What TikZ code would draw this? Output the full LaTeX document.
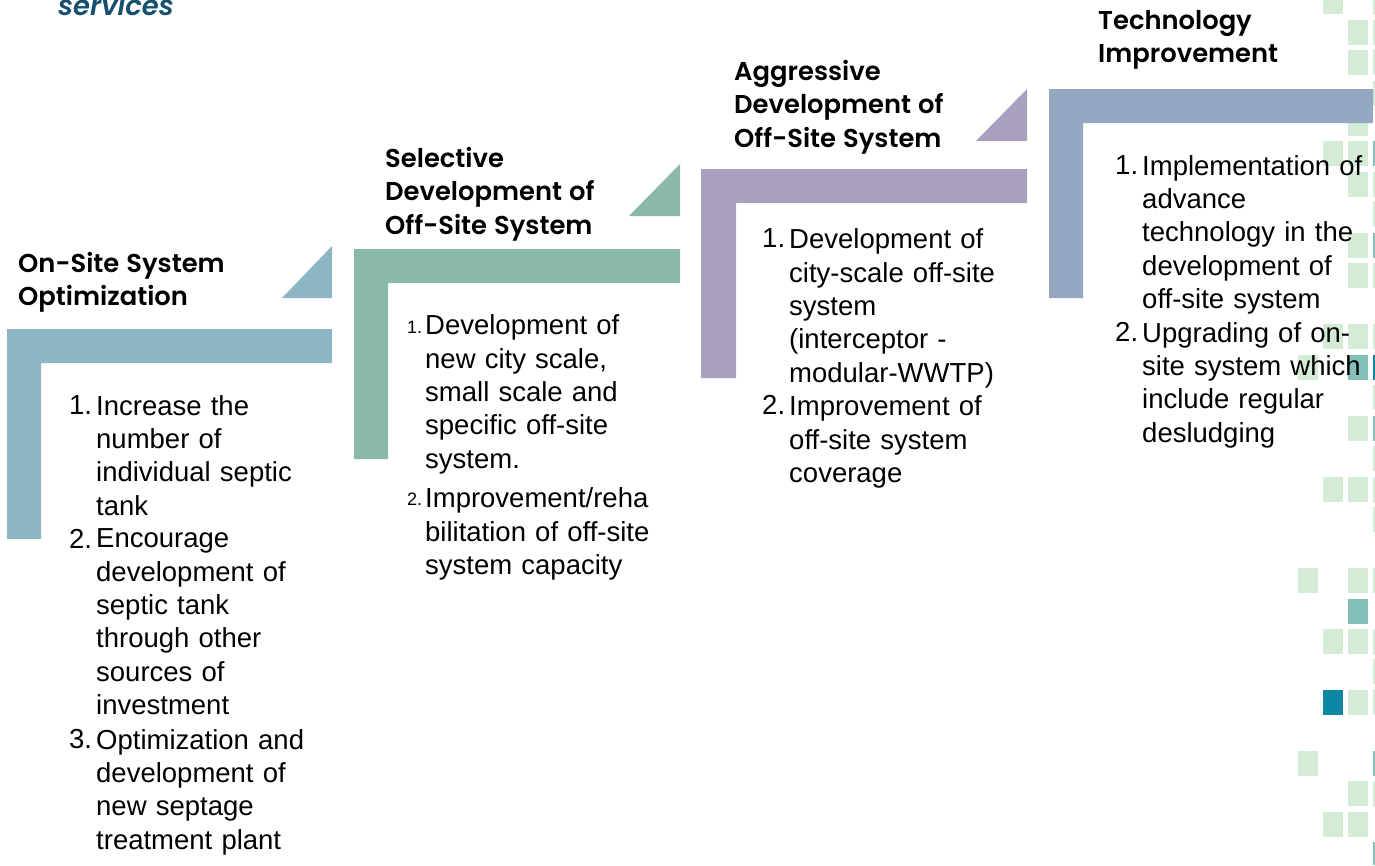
\documentclass[tikz,border=0pt]{standalone}
\usepackage{fontspec}
\setmainfont{Liberation Sans}
\newfontfamily\headfont{Poppins SemiBold}[WordSpace=1.15,ItalicFont={Poppins SemiBold Italic}]
\definecolor{sqlight}{HTML}{D4EBD6}
\definecolor{sqteal}{HTML}{83C1B8}
\definecolor{sqdark}{HTML}{0E87A5}
\definecolor{stepa}{HTML}{8CB6C4}
\definecolor{stepb}{HTML}{8AB8A9}
\definecolor{stepc}{HTML}{A99FBF}
\definecolor{stepd}{HTML}{95A8C1}
\definecolor{headblue}{HTML}{17506F}
\tikzset{
  sqa/.style={fill=sqlight,draw=none},
  sqb/.style={fill=sqteal,draw=none},
  sqc/.style={fill=sqdark,draw=none},
  headtxt/.style={anchor=north west,inner sep=0pt,align=left,font=\fontsize{25.8}{33.4}\selectfont\headfont},
  bodytxt/.style={anchor=north west,inner sep=0pt,text width=#1,align=left,font=\fontsize{27.5}{33.4}\selectfont},
  numtxt/.style={anchor=north west,inner sep=0pt,font=\fontsize{27.5}{33.4}\selectfont},
  smalltxt/.style={anchor=base west,inner sep=0pt,font=\fontsize{18}{20}\selectfont}
}
\begin{document}
\begin{tikzpicture}[x=1pt,y=-1pt]
\useasboundingbox (0,0) rectangle (1375,865);
% col A 1298
\foreach \a/\b in {355/380,568/593,751/776}{\fill[sqa] (1298,\a) rectangle (1318,\b);}
% col B 1323
\foreach \a/\b in {0/14,141/166,324/349,477/502,629/654,812/837}{\fill[sqa] (1323,\a) rectangle (1343,\b);}
\fill[sqc] (1323,690) rectangle (1343,715);
% col C 1348
\foreach \a/\b in {20/45,50/75,123/136,141/166,172/197,233/258,263/288,324/349,416/441,477/502,568/593,629/654,690/715,781/806,812/837}{\fill[sqa] (1348,\a) rectangle (1368,\b);}
\foreach \a/\b in {355/380,599/624}{\fill[sqb] (1348,\a) rectangle (1368,\b);}
% col D 1373
\foreach \a/\b in {0/14,20/45,50/75,81/106,172/197,202/227,263/288,324/349,385/410,446/471,477/502,507/532,568/593,629/654,659/684,690/715,781/806}{\fill[sqa] (1373,\a) rectangle (1375,\b);}
\foreach \a/\b in {141/166,233/258,416/441,751/776,842/865}{\fill[sqb] (1373,\a) rectangle (1375,\b);}
\fill[sqc] (1373,355) rectangle (1375,380);
% steps
\fill[stepa] (7,329) -- (332,329) -- (332,363) -- (41,363) -- (41,539) -- (7,539) -- cycle;
\fill[stepa] (282,298) -- (332,246) -- (332,298) -- cycle;
\fill[stepb] (354,249) -- (680,249) -- (680,283) -- (388,283) -- (388,459) -- (354,459) -- cycle;
\fill[stepb] (629,216) -- (680,164) -- (680,216) -- cycle;
\fill[stepc] (701,169) -- (1027,169) -- (1027,203) -- (736,203) -- (736,378) -- (701,378) -- cycle;
\fill[stepc] (976,141) -- (1027,89) -- (1027,141) -- cycle;
\fill[stepd] (1049,89) -- (1373,89) -- (1373,123) -- (1083,123) -- (1083,298) -- (1049,298) -- cycle;
% heads
\node[anchor=base west,inner sep=0pt,text=headblue,font=\fontsize{27.5}{30}\selectfont\headfont\itshape] (title) at (58,15.5) {services};
\node[headtxt] (h1) at (18,252) {On-Site System\\Optimization};
\node[headtxt] (h2) at (385,147) {Selective\\Development of\\Off-Site System};
\node[headtxt] (h3) at (734,60) {Aggressive\\Development of\\Off-Site System};
\node[headtxt] (h4) at (1098,10) {Technology\\Improvement};
% body 1
\node[numtxt] (n11) at (69,395) {1.};
\node[bodytxt=215pt] (b11) at (96,395) {Increase the\\number of\\individual septic\\tank};
\node[numtxt] (n12) at (69,528.6) {2.};
\node[bodytxt=215pt] (b12) at (96,528.6) {Encourage\\development of\\septic tank\\through other\\sources of\\investment};
\node[numtxt] (n13) at (69,729) {3.};
\node[bodytxt=215pt] (b13) at (96,729) {Optimization and\\development of\\new septage\\treatment plant};
% body 2
\node[smalltxt] (n21) at (407,333) {1.};
\node[bodytxt=240pt] (b21) at (425,314.5) {Development of\\new city scale,\\small scale and\\specific off-site\\system.};
\node[smalltxt] (n22) at (407,505) {2.};
\node[bodytxt=240pt] (b22) at (425,487.5) {Improvement/reha\\bilitation of off-site\\system capacity};
% body 3
\node[numtxt] (n31) at (762,228.5) {1.};
\node[bodytxt=215pt] (b31) at (789,228.5) {Development of\\city-scale off-site\\system\\(interceptor -\\modular-WWTP)};
\node[numtxt] (n32) at (762,395.5) {2.};
\node[bodytxt=215pt] (b32) at (789,395.5) {Improvement of\\off-site system\\coverage};
% body 4
\node[numtxt] (n41) at (1115,155) {1.};
\node[bodytxt=240pt] (b41) at (1142,155) {Implementation of\\advance\\technology in the\\development of\\off-site system};
\node[numtxt] (n42) at (1115,322) {2.};
\node[bodytxt=240pt] (b42) at (1142,322) {Upgrading of on-\\site system which\\include regular\\desludging};
\end{tikzpicture}
\end{document}
